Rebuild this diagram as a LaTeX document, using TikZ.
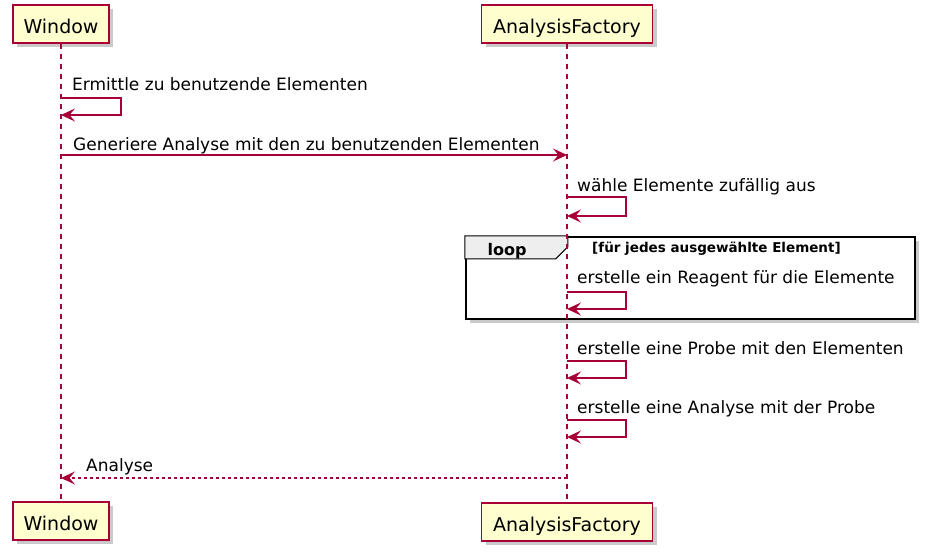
\documentclass[tikz,border=0pt]{standalone}
\usepackage{fontspec}
\setmainfont{DejaVu Sans}
\usetikzlibrary{arrows.meta}
\usetikzlibrary{shadows}
\definecolor{umlred}{HTML}{A80036}
\definecolor{umlfill}{HTML}{FEFECE}
\definecolor{looptab}{HTML}{EEEEEE}

\begin{document}
\begin{tikzpicture}[x=1pt,y=-1pt,
            part-node/.style={rectangle,draw=umlred,line width=1.8pt,fill=umlfill,
                minimum height=38pt,inner sep=0pt,text height=19pt,text depth=0pt,
                font=\fontsize{19}{22}\selectfont,
                drop shadow={shadow xshift=4pt,shadow yshift=-4pt,fill=black!35,opacity=0.6}},
            loop-frame/.style={rectangle,draw=black,line width=2.4pt,fill=white,
                drop shadow={shadow xshift=4pt,shadow yshift=-4pt,fill=black!35,opacity=0.6}},
            life-line/.style={umlred,line width=1.3pt,dash pattern=on 5pt off 5pt},
            msg-line/.style={umlred,line width=1.4pt,-{Stealth[length=14pt,width=13pt,inset=5.5pt]}},
            ret-line/.style={msg-line,dash pattern=on 3pt off 3pt},
            msg-text/.style={anchor=base west,inner sep=0pt,font=\fontsize{17}{20}\selectfont},
        ]
            \useasboundingbox (0,0) rectangle (928,559);

            \node[part-node,minimum width=96pt] (wintop) at (61,24) {Window};
            \node[part-node,minimum width=171pt] (factop) at (567,24) {AnalysisFactory};
            \node[part-node,minimum width=96pt] (winbot) at (61,521) {Window};
            \node[part-node,minimum width=171pt] (facbot) at (567,522) {AnalysisFactory};

            \node[loop-frame,minimum width=449pt,minimum height=82pt] (loop) at (690.5,278) {};
            \draw[fill=looptab,line width=1pt] (loop.north west) -- ++(103,0) -- ++(0,11)
                -- ++(-12,12) -- ++(-91,0) -- cycle;
            \node[anchor=base,font=\fontsize{16}{19}\selectfont\bfseries] (looplbl) at (507,255) {loop};
            \node[anchor=base west,inner sep=0pt,font=\fontsize{13.5}{16}\selectfont\bfseries] (loopcond) at (592,252) {[für jedes ausgewählte Element]};

            \draw[life-line] (wintop) -- (winbot);
            \draw[life-line] (factop) -- (facbot);

            \coordinate (w1a) at (61,98);
            \coordinate (w1b) at (61,115);
            \node[msg-text] (t1) at (72,91) {Ermittle zu benutzende Elementen};
            \draw[msg-line] (w1a) -- ++(60,0) |- (w1b);

            \coordinate (w2) at (61,155);
            \coordinate (f2) at (567,155);
            \node[msg-text] (t2) at (73,150) {Generiere Analyse mit den zu benutzenden Elementen};
            \draw[msg-line] (w2) -- (f2);

            \coordinate (f3a) at (567,197);
            \coordinate (f3b) at (567,216);
            \node[msg-text] (t3) at (577,191) {wähle Elemente zufällig aus};
            \draw[msg-line] (f3a) -- ++(59,0) |- (f3b);

            \coordinate (f4a) at (567,292);
            \coordinate (f4b) at (567,309);
            \node[msg-text] (t4) at (577,283) {erstelle ein Reagent für die Elemente};
            \draw[msg-line] (f4a) -- ++(59,0) |- (f4b);

            \coordinate (f5a) at (567,361);
            \coordinate (f5b) at (567,378);
            \node[msg-text] (t5) at (577,354) {erstelle eine Probe mit den Elementen};
            \draw[msg-line] (f5a) -- ++(59,0) |- (f5b);

            \coordinate (f6a) at (567,420);
            \coordinate (f6b) at (567,437);
            \node[msg-text] (t6) at (577,413) {erstelle eine Analyse mit der Probe};
            \draw[msg-line] (f6a) -- ++(59,0) |- (f6b);

            \coordinate (f7) at (567,478);
            \coordinate (w7) at (61,478);
            \node[msg-text] (t7) at (86,471) {Analyse};
            \draw[ret-line] (f7) -- (w7);
        \end{tikzpicture}
\end{document}
